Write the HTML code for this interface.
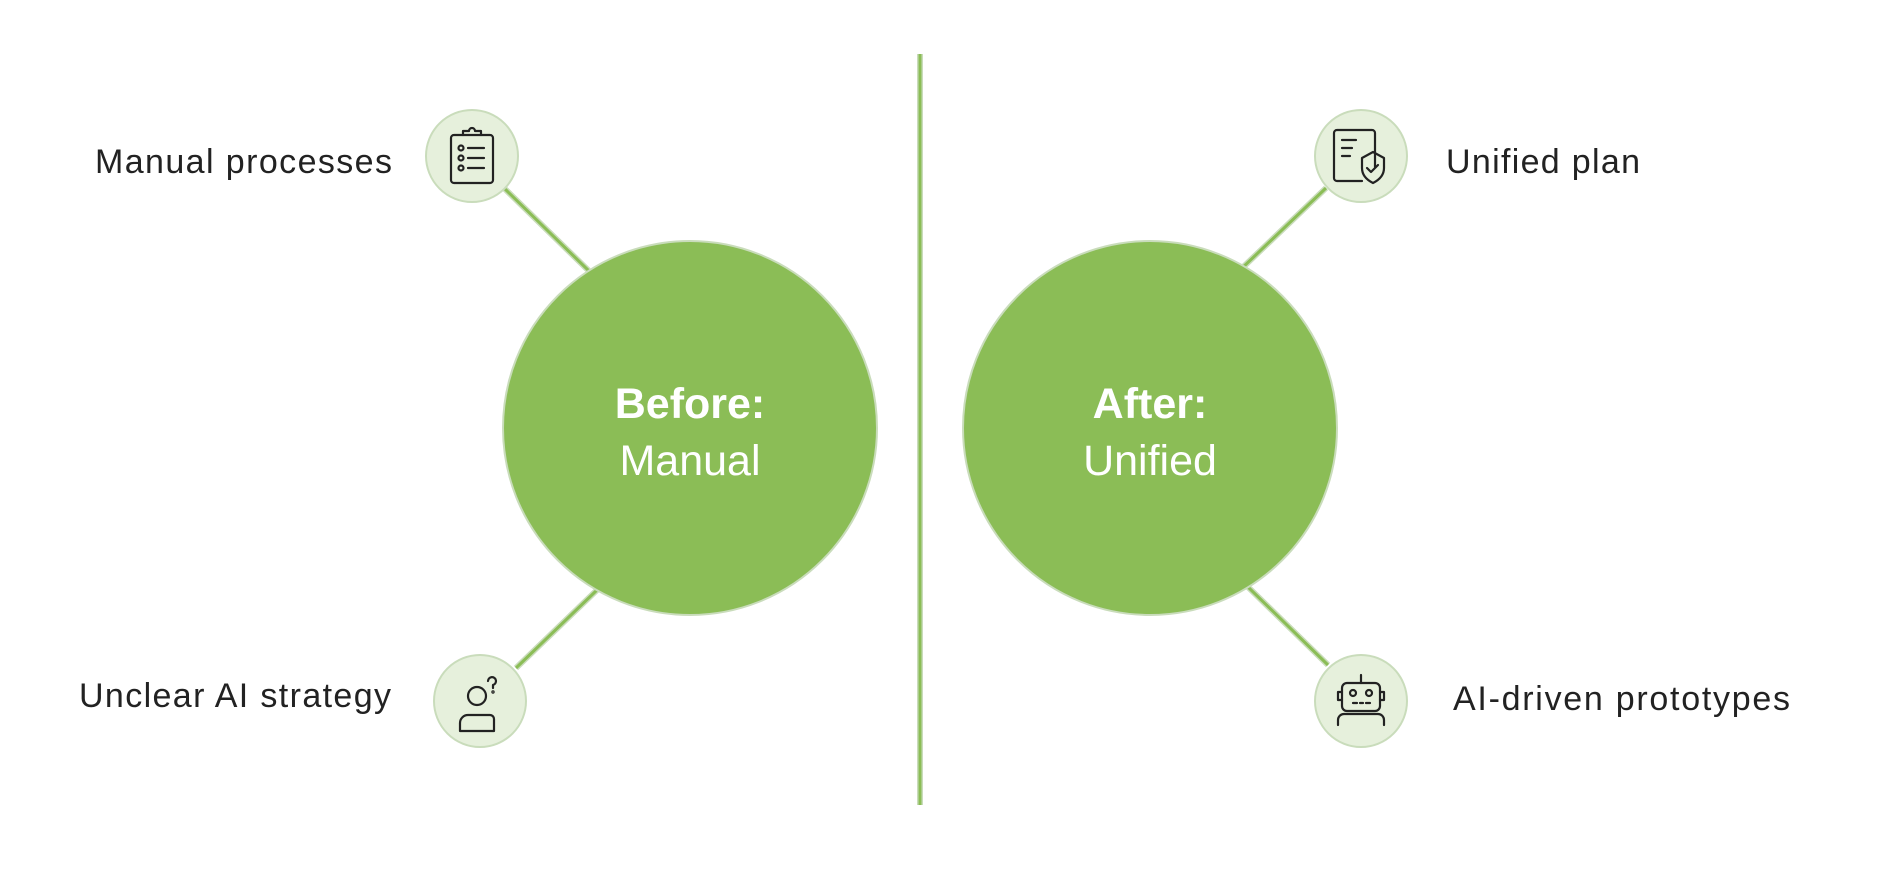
<!DOCTYPE html>
<html><head><meta charset="utf-8"><style>
body{margin:0;background:#fff;}
svg text{font-family:"Liberation Sans",sans-serif;}
</style></head><body>
<svg width="1880" height="872" viewBox="0 0 1880 872" xmlns="http://www.w3.org/2000/svg">
<g stroke-linecap="butt">
<line x1="920" y1="54" x2="920" y2="805" stroke="#c9dcbb" stroke-width="6"/>
<line x1="920" y1="54" x2="920" y2="805" stroke="#8bbd56" stroke-width="3"/>
<g stroke="#c9dcbb" stroke-width="6">
<line x1="505" y1="189" x2="589" y2="271"/>
<line x1="516" y1="668" x2="597" y2="590"/>
<line x1="1326" y1="188" x2="1239" y2="271"/>
<line x1="1248" y1="587" x2="1328" y2="665"/>
</g>
<g stroke="#8bbd56" stroke-width="3">
<line x1="505" y1="189" x2="589" y2="271"/>
<line x1="516" y1="668" x2="597" y2="590"/>
<line x1="1326" y1="188" x2="1239" y2="271"/>
<line x1="1248" y1="587" x2="1328" y2="665"/>
</g>
</g>
<circle cx="690" cy="428" r="187" fill="#8bbd56" stroke="#c9dcbb" stroke-width="2"/>
<circle cx="1150" cy="428" r="187" fill="#8bbd56" stroke="#c9dcbb" stroke-width="2"/>
<g fill="#e6f0dc" stroke="#c9dcbb" stroke-width="2">
<circle cx="472" cy="156" r="46"/>
<circle cx="480" cy="701" r="46"/>
<circle cx="1361" cy="156" r="46"/>
<circle cx="1361" cy="701" r="46"/>
</g>
<text x="690" y="418" text-anchor="middle" fill="#fff" font-size="43" font-weight="bold">Before:</text>
<text x="690" y="475" text-anchor="middle" fill="#fff" font-size="43">Manual</text>
<text x="1150" y="418" text-anchor="middle" fill="#fff" font-size="43" font-weight="bold">After:</text>
<text x="1150" y="475" text-anchor="middle" fill="#fff" font-size="43">Unified</text>
<g fill="#222" font-size="34">
<text x="95" y="173" textLength="297" lengthAdjust="spacing">Manual processes</text>
<text x="79" y="707" textLength="312" lengthAdjust="spacing">Unclear AI strategy</text>
<text x="1446" y="173" textLength="194" lengthAdjust="spacing">Unified plan</text>
<text x="1453" y="710" textLength="337" lengthAdjust="spacing">AI-driven prototypes</text>
</g>
<g fill="none" stroke="#222" stroke-width="2.2" stroke-linecap="round" stroke-linejoin="round">
<rect x="451" y="135" width="42" height="48" rx="3"/>
<path d="M463 135v-4h6a3 3 0 0 1 6 0h6v4"/>
<circle cx="461" cy="148" r="2.5"/><circle cx="461" cy="158" r="2.5"/><circle cx="461" cy="168" r="2.5"/>
<path d="M468 148h16M468 158h16M468 168h16"/>
<circle cx="477" cy="696" r="9"/>
<path d="M460 731v-8a8 8 0 0 1 8-8h22a4 4 0 0 1 4 4v12z"/>
<path d="M488 681a4 4 0 1 1 5 4v3"/><circle cx="493" cy="692" r="0.6"/>
<path d="M1375 167v-34a3 3 0 0 0-3-3h-35a3 3 0 0 0-3 3v45a3 3 0 0 0 3 3h25"/>
<path d="M1342 140h14M1342 148h10M1342 156h8"/>
<path d="M1362 158l11-6 11 6v10c0 7-5 12-11 15c-6-3-11-8-11-15z"/>
<path d="M1367 168l4 4 7-7"/>
<rect x="1342" y="683" width="38" height="28" rx="5"/>
<path d="M1361 683v-8"/>
<path d="M1342 692h-4v8h4M1380 692h4v8h-4"/>
<circle cx="1353" cy="693" r="3"/><circle cx="1369" cy="693" r="3"/>
<path d="M1353 703h4M1360 703h3M1366 703h4"/>
<path d="M1338 725v-5a6 6 0 0 1 6-6h34a6 6 0 0 1 6 6v5"/>
</g>
</svg>
</body></html>
